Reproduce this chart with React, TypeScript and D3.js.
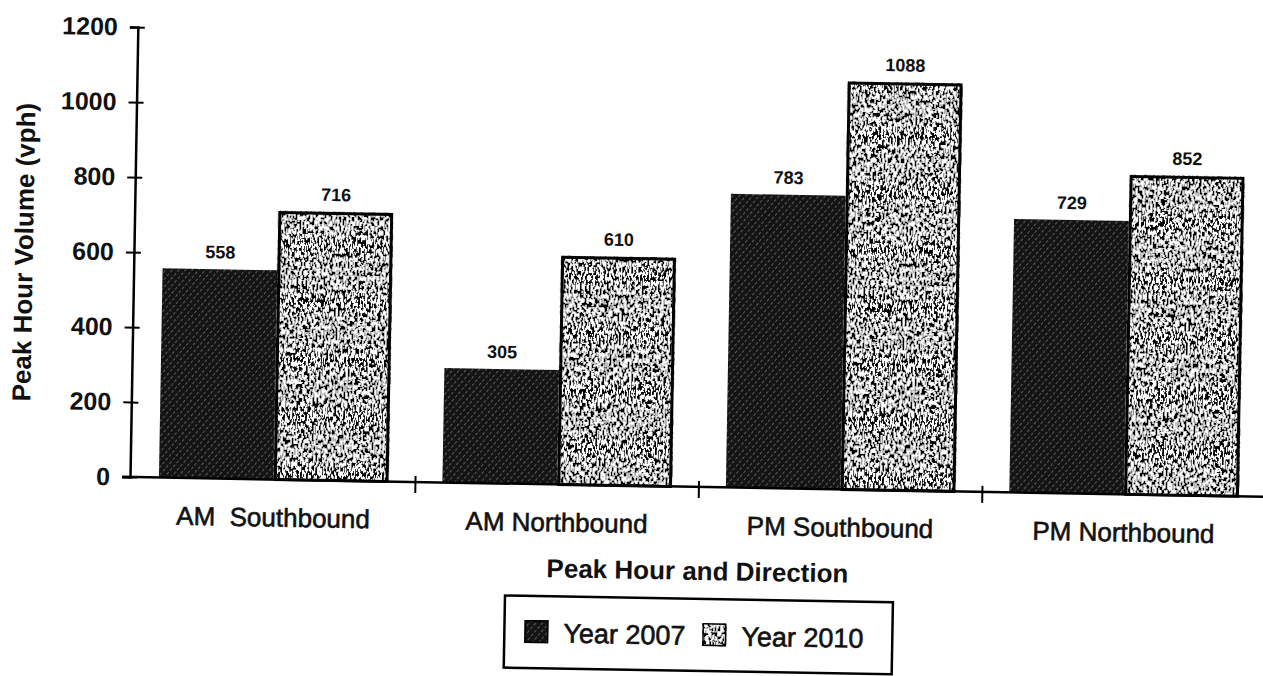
// App.tsx
import React, { useEffect, useRef } from 'react'
import * as d3 from 'd3'

const categories = ['AM  Southbound', 'AM Northbound', 'PM Southbound', 'PM Northbound']
const seriesNames = ['Year 2007', 'Year 2010']
const year2007 = [558, 305, 783, 729]
const year2010 = [716, 610, 1088, 852]
const yTicks = [0, 200, 400, 600, 800, 1000, 1200]

const W = 1263
const H = 676
const FONT = '"Liberation Sans", Arial, sans-serif'

function drawChart(node: SVGSVGElement) {
  const svg = d3.select(node)
  svg.selectAll('*').remove()

  // patterns for the two series
  const defs = svg.append('defs')

  const hatch = defs.append('pattern')
    .attr('id', 'hatch2007')
    .attr('patternUnits', 'userSpaceOnUse')
    .attr('width', 5)
    .attr('height', 5)
    .attr('patternTransform', 'rotate(40)')
  hatch.append('rect').attr('width', 5).attr('height', 5).attr('fill', '#141414')
  hatch.append('line')
    .attr('x1', 0).attr('y1', 0).attr('x2', 0).attr('y2', 5)
    .attr('stroke', '#9a9a9a')
    .attr('stroke-width', 1.1)
    .attr('stroke-dasharray', '3 2')

  const speckle = defs.append('filter')
    .attr('id', 'speckle')
    .attr('x', 0).attr('y', 0).attr('width', '100%').attr('height', '100%')
  speckle.append('feTurbulence')
    .attr('type', 'fractalNoise')
    .attr('baseFrequency', '0.55 0.22')
    .attr('numOctaves', 2)
    .attr('seed', 7)
    .attr('result', 'noise')
  speckle.append('feColorMatrix')
    .attr('in', 'noise')
    .attr('type', 'saturate')
    .attr('values', 0)
    .attr('result', 'gray')
  const ct = speckle.append('feComponentTransfer').attr('in', 'gray').attr('result', 'bw')
  ;['feFuncR', 'feFuncG', 'feFuncB'].forEach(f => {
    ct.append(f).attr('type', 'discrete').attr('tableValues', '0 0 0 0 0 1 1 1 1 1')
  })
  ct.append('feFuncA').attr('type', 'linear').attr('slope', 0).attr('intercept', 1)
  speckle.append('feComposite')
    .attr('in', 'bw')
    .attr('in2', 'SourceGraphic')
    .attr('operator', 'in')

  // whole scan is tilted a little
  const g = svg.append('g').attr('transform', 'rotate(1, 130, 477)')

  const left = 130
  const right = 1266
  const y = d3.scaleLinear().domain([0, 1200]).range([477, 27])
  const x0 = d3.scaleBand<string>()
    .domain(categories)
    .range([left + 2, right])
    .paddingInner(0.19)
    .paddingOuter(0.095)
  const x1 = d3.scaleBand<string>()
    .domain(seriesNames)
    .range([0, x0.bandwidth()])

  const fills: Record<string, string> = {
    'Year 2007': 'url(#hatch2007)',
    'Year 2010': '#ffffff'
  }

  const rows = categories.map((c, i) => ({ cat: c, values: [year2007[i], year2010[i]] }))

  const groups = g.selectAll('.grp')
    .data(rows)
    .enter()
    .append('g')
    .attr('class', 'grp')
    .attr('transform', d => 'translate(' + x0(d.cat) + ',0)')

  const bars = groups.selectAll('.bar')
    .data(d => d.values.map((v, i) => ({ name: seriesNames[i], v: v })))
    .enter()
    .append('g')
    .attr('class', 'bar')

  bars.append('rect')
    .attr('x', d => x1(d.name)!)
    .attr('y', d => y(d.v))
    .attr('width', x1.bandwidth())
    .attr('height', d => y(0) - y(d.v))
    .attr('fill', d => fills[d.name])
    .attr('filter', d => d.name === 'Year 2010' ? 'url(#speckle)' : null)

  bars.filter(d => d.name === 'Year 2010')
    .append('rect')
    .attr('x', d => x1(d.name)! + 1.5)
    .attr('y', d => y(d.v) + 1.5)
    .attr('width', x1.bandwidth() - 3)
    .attr('height', d => y(0) - y(d.v) - 1.5)
    .attr('fill', 'none')
    .attr('stroke', '#000')
    .attr('stroke-width', 3)

  bars.append('text')
    .attr('x', d => x1(d.name)! + x1.bandwidth() / 2)
    .attr('y', d => y(d.v) - 11)
    .attr('text-anchor', 'middle')
    .attr('font-family', FONT)
    .attr('font-weight', 'bold')
    .attr('font-size', 18)
    .attr('fill', '#111')
    .text(d => d.v)

  // y axis
  const yAxis = g.append('g')
    .attr('transform', 'translate(' + left + ',0)')
    .call(d3.axisLeft(y).tickValues(yTicks).tickFormat(d3.format('d')).tickSize(8).tickPadding(12))
  yAxis.select('.domain').attr('stroke', '#000').attr('stroke-width', 2.5)
  yAxis.selectAll('.tick line').attr('x2', -8).attr('x1', 7).attr('stroke', '#000').attr('stroke-width', 2)
  yAxis.selectAll('.tick text')
    .attr('font-family', FONT)
    .attr('font-weight', 'bold')
    .attr('font-size', 25)
    .attr('fill', '#111')

  // x axis line and group boundary ticks
  g.append('line')
    .attr('x1', left - 8).attr('x2', right + 10)
    .attr('y1', y(0)).attr('y2', y(0))
    .attr('stroke', '#000').attr('stroke-width', 2.5)
  g.selectAll('.xtick')
    .data(categories.slice(1))
    .enter()
    .append('line')
    .attr('class', 'xtick')
    .attr('x1', d => x0(d)! - x0.step() * x0.paddingInner() / 2)
    .attr('x2', d => x0(d)! - x0.step() * x0.paddingInner() / 2)
    .attr('y1', y(0) - 6).attr('y2', y(0) + 11)
    .attr('stroke', '#000').attr('stroke-width', 2)

  g.selectAll('.xlabel')
    .data(categories)
    .enter()
    .append('text')
    .attr('class', 'xlabel')
    .attr('x', d => x0(d)! + x0.bandwidth() / 2)
    .attr('y', y(0) + 47)
    .attr('text-anchor', 'middle')
    .attr('font-family', FONT)
    .attr('font-size', 26)
    .attr('fill', '#111')
    .attr('stroke', '#111')
    .attr('stroke-width', 0.6)
    .style('white-space', 'pre')
    .text(d => d)

  g.append('text')
    .attr('x', 699)
    .attr('y', 570)
    .attr('text-anchor', 'middle')
    .attr('font-family', FONT)
    .attr('font-weight', 'bold')
    .attr('font-size', 26)
    .attr('fill', '#111')
    .text('Peak Hour and Direction')

  g.append('text')
    .attr('transform', 'translate(29,254) rotate(-90)')
    .attr('text-anchor', 'middle')
    .attr('font-family', FONT)
    .attr('font-weight', 'bold')
    .attr('font-size', 26)
    .attr('fill', '#111')
    .text('Peak Hour Volume (vph)')

  // legend
  const legend = g.append('g').attr('transform', 'translate(507,589)')
  legend.append('rect')
    .attr('width', 388).attr('height', 72)
    .attr('fill', '#fff').attr('stroke', '#000').attr('stroke-width', 2.5)

  const items = legend.selectAll('.item')
    .data(seriesNames)
    .enter()
    .append('g')
    .attr('class', 'item')
    .attr('transform', (d, i) => 'translate(' + (20 + i * 178) + ',24)')

  items.append('rect')
    .attr('width', 24).attr('height', 23)
    .attr('fill', d => fills[d])
    .attr('filter', d => d === 'Year 2010' ? 'url(#speckle)' : null)
  items.append('rect')
    .attr('x', 0.75).attr('y', 0.75)
    .attr('width', 22.5).attr('height', 21.5)
    .attr('fill', 'none').attr('stroke', '#000').attr('stroke-width', 1.5)
  items.append('text')
    .attr('x', 39)
    .attr('y', 22)
    .attr('font-family', FONT)
    .attr('font-size', 27)
    .attr('fill', '#111')
    .attr('stroke', '#111')
    .attr('stroke-width', 0.6)
    .text(d => d)
}

export default function App() {
  const ref = useRef<SVGSVGElement>(null)

  useEffect(() => {
    document.body.style.margin = '0'
    if (ref.current) drawChart(ref.current)
  }, [])

  return (
    <svg ref={ref} width={W} height={H} style={{ display: 'block', background: '#fff' }} />
  )
}
